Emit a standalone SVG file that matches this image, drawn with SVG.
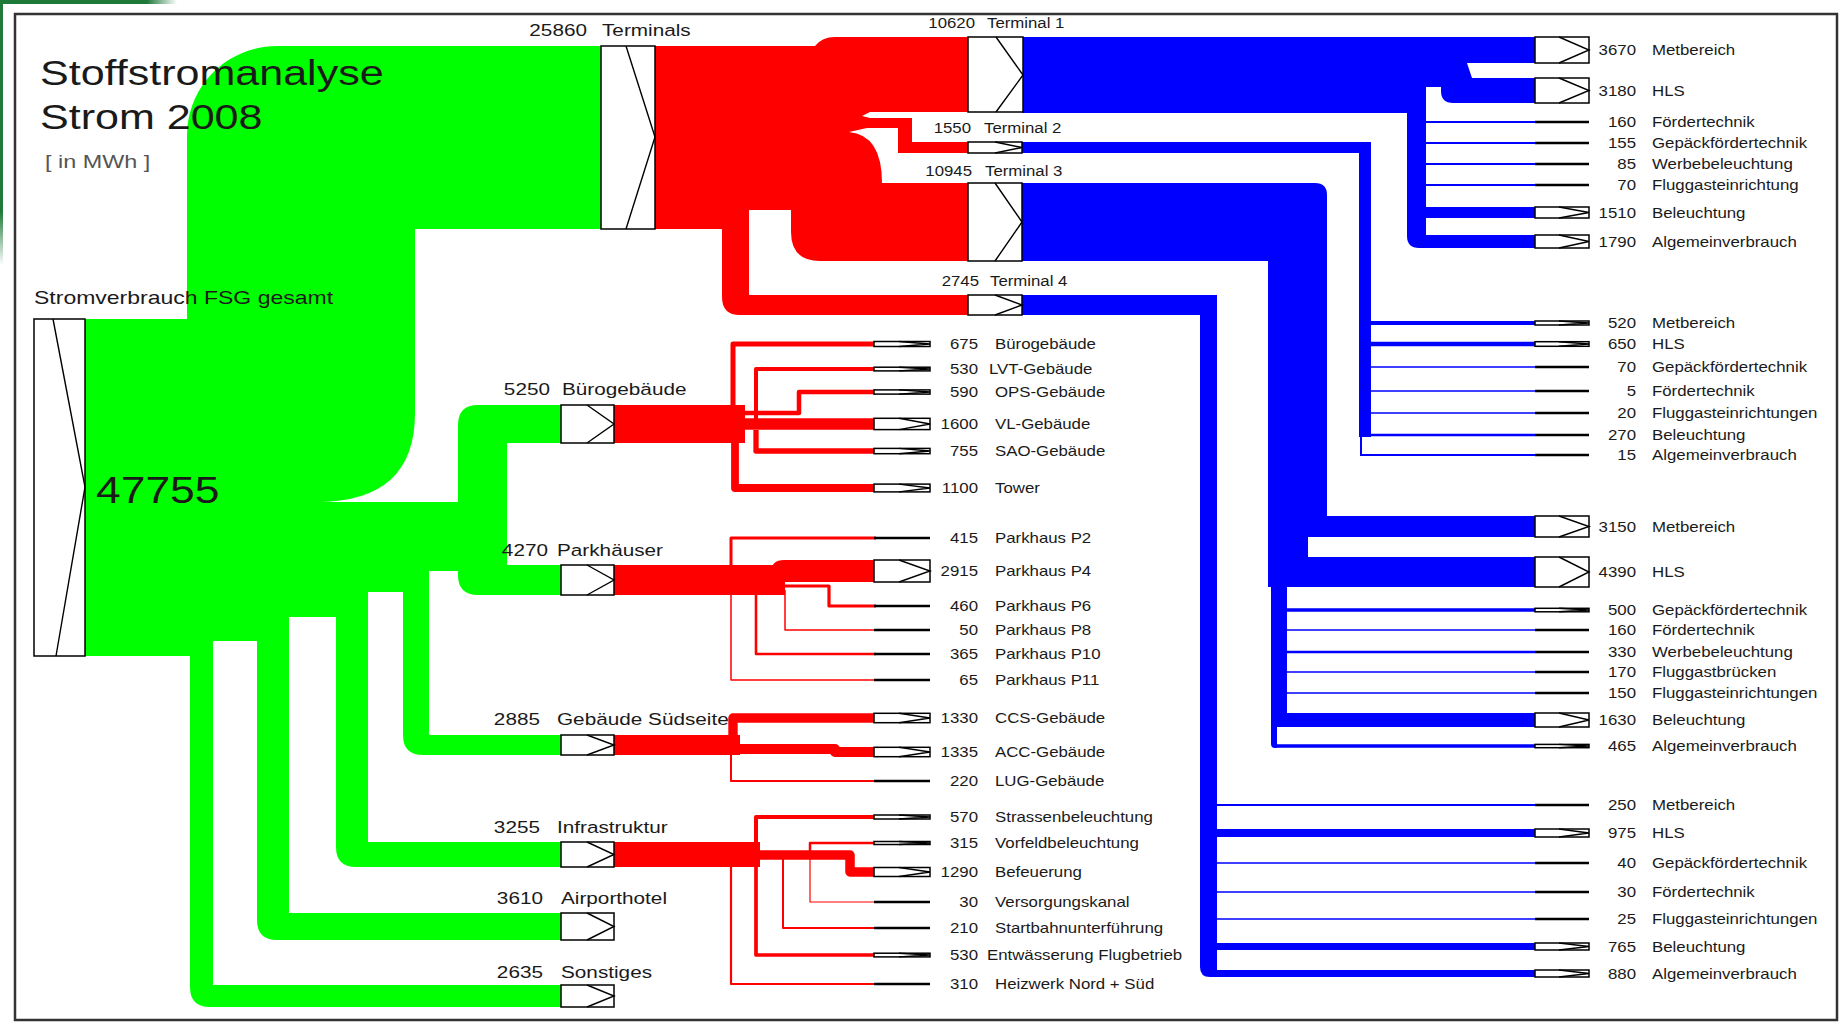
<svg xmlns="http://www.w3.org/2000/svg" width="1843" height="1024" viewBox="0 0 1843 1024">
<defs>
<linearGradient id="fade" x1="0" x2="1" y1="0" y2="0"><stop offset="0" stop-color="#1f7a3a"/><stop offset="1" stop-color="#1f7a3a" stop-opacity="0"/></linearGradient>
<linearGradient id="fadev" x1="0" x2="0" y1="0" y2="1"><stop offset="0.8" stop-color="#1f7a3a"/><stop offset="1" stop-color="#1f7a3a" stop-opacity="0"/></linearGradient>
</defs>
<style>
.g{fill:#00ff00}
.r{fill:#ff0000}
.b{fill:#0000ff}
.rl{fill:none;stroke:#ff0000;stroke-linejoin:round}
.bl{fill:none;stroke:#0000ff}
.bx{fill:#fff;stroke:#000;stroke-width:1.5}
.ch{fill:none;stroke:#000;stroke-width:1.4}
.el{stroke:#000;stroke-width:2.5}
text{font-family:"Liberation Sans",Arial,sans-serif;fill:#1a1a1a}
.lf{font-size:14.5px}
.lb{font-size:17px}
.lt{font-size:15px}
.n{text-anchor:end}
</style>
<rect x="0" y="0" width="1843" height="1024" fill="#fff"/>
<rect x="0" y="0" width="147" height="4" fill="#1f7a3a"/>
<rect x="147" y="0" width="30" height="4" fill="url(#fade)"/>
<rect x="0" y="0" width="3" height="265" fill="url(#fadev)"/>
<rect x="15" y="14" width="1822" height="1006" fill="none" stroke="#333" stroke-width="2.5"/>

<g id="connectors">
<!-- green -->
<path class="g" d="M85 319 L187 319 L187 136 C187 86 227 46 277 46 L601 46 L601 229 L415 229 L415 413 Q415 502 317 502 L458 502 L458 425 Q458 405 478 405 L561 405 L561 443 L507 443 L507 565 L561 565 L561 595 L478 595 Q458 595 458 575 L458 571 L429 571 L429 735 L561 735 L561 755 L423 755 Q403 755 403 735 L403 592 L368 592 L368 842 L561 842 L561 867 L356 867 Q336 867 336 847 L336 617 L289 617 L289 913 L561 913 L561 940 L277 940 Q257 940 257 920 L257 641 L213 641 L213 985 L561 985 L561 1007 L210 1007 Q190 1007 190 987 L190 656 L85 656 Z"/>
<!-- red terminals -->
<path class="r" d="M655 46 L815 46 Q822 37 835 37 L968 37 L968 112 L870 112 L862 116 L870 118 L912 118 L912 142 L968 142 L968 153 L898 153 L898 128 L867 128 L849 132 Q882 135 882 183 L968 183 L968 261 L820 261 Q791 261 791 232 L791 210 L749 210 L749 295 L968 295 L968 315 L740 315 Q722 315 722 297 L722 229 L655 229 Z"/>
<!-- red Bürogebäude -->
<rect class="r" x="614" y="405" width="131" height="38"/>
<path class="rl" stroke-width="5" d="M733 425 V344 H876"/>
<path class="rl" stroke-width="4" d="M756 425 V369 H876"/>
<path class="rl" stroke-width="4.5" d="M740 413 H799 V392 H876"/>
<path class="rl" stroke-width="11.3" d="M740 424 H876"/>
<path class="rl" stroke-width="5.3" d="M756 430 V451 H876"/>
<path class="rl" stroke-width="7.8" d="M735 435 V488 H876"/>
<!-- red Parkhäuser -->
<rect class="r" x="613" y="565" width="172" height="30"/>
<path class="r" d="M771 573 Q771 560 784 560 L876 560 L876 582 L771 582 Z"/>
<path class="rl" stroke-width="3" d="M731 570 V538 H876"/>
<path class="rl" stroke-width="3.2" d="M780 586 H829 V606 H876"/>
<path class="rl" stroke-width="1.5" d="M785 590 V630 H876"/>
<path class="rl" stroke-width="2.6" d="M756 590 V654 H876"/>
<path class="rl" stroke-width="1.5" d="M731 590 V680 H876"/>
<!-- red Südseite -->
<rect class="r" x="611" y="735" width="129" height="20"/>
<path class="rl" stroke-width="9.4" d="M733 742 V718 H876"/>
<path class="rl" stroke-width="10" d="M735 749 H835 V752 H876"/>
<path class="rl" stroke-width="2" d="M731 750 V781 H876"/>
<!-- red Infrastruktur -->
<rect class="r" x="611" y="842" width="149" height="25"/>
<path class="rl" stroke-width="4" d="M756 850 V817 H876"/>
<path class="rl" stroke-width="9.5" d="M745 855 H850 V872 H876"/>
<path class="rl" stroke-width="2.5" d="M810 852 V843 H876"/>
<path class="rl" stroke-width="1.2" d="M810 855 V902 H876"/>
<path class="rl" stroke-width="2" d="M783 855 V928 H876"/>
<path class="rl" stroke-width="3.7" d="M756 860 V955 H876"/>
<path class="rl" stroke-width="2.2" d="M731 860 V984 H876"/>
<!-- blue T1 -->
<path class="b" d="M1022 37 H1535 V63 H1467 L1472 78 H1535 V103 H1453 Q1441 103 1441 91 V87 H1426 V235 H1535 V248 H1419 Q1407 248 1407 236 V113 H1022 Z"/>
<rect class="b" x="1426" y="207" width="109" height="11"/>
<path class="bl" stroke-width="2" d="M1426 122 H1535 M1426 143 H1535 M1426 164 H1535 M1426 185 H1535"/>
<!-- blue T2 -->
<rect class="b" x="1022" y="142" width="349" height="11"/>
<rect class="b" x="1359" y="142" width="12" height="295"/>
<path class="bl" stroke-width="2" d="M1361 436 V455 H1535"/>
<path class="bl" stroke-width="4" d="M1371 323 H1535"/>
<path class="bl" stroke-width="4.6" d="M1371 344 H1535"/>
<path class="bl" stroke-width="1.6" d="M1371 367 H1535 M1371 391 H1535 M1371 413 H1535"/>
<path class="bl" stroke-width="2.5" d="M1365 435 H1535"/>
<!-- blue T3 -->
<path class="b" d="M1022 183 H1315 Q1327 183 1327 195 V516 H1535 V537 H1308 V557 H1535 V587 H1287 V713 H1535 V727 H1277 V748 H1275 Q1271 748 1271 744 V587 H1268 V261 H1022 Z"/>
<path class="bl" stroke-width="3.3" d="M1274 746 H1535"/>
<path class="bl" stroke-width="3.5" d="M1287 610 H1535"/>
<path class="bl" stroke-width="1.6" d="M1287 630 H1535 M1287 672 H1535 M1287 693 H1535"/>
<path class="bl" stroke-width="2.3" d="M1287 652 H1535"/>
<!-- blue T4 -->
<path class="b" d="M1022 295 H1217 V970 H1535 V977 H1210 Q1200 977 1200 967 V315 H1022 Z"/>
<path class="bl" stroke-width="2" d="M1217 805 H1535"/>
<rect class="b" x="1217" y="829" width="318" height="8"/>
<path class="bl" stroke-width="1.6" d="M1217 863 H1535 M1217 892 H1535 M1217 919 H1535"/>
<rect class="b" x="1217" y="943" width="318" height="7"/>
</g>

<g id="title">
<text transform="matrix(1.23 0 0 1 40 85)" style="font-size:35px">Stoffstromanalyse</text>
<text transform="matrix(1.23 0 0 1 40 129)" style="font-size:35px">Strom 2008</text>
<text transform="matrix(1.3 0 0 1 45 168)" style="font-size:18px;fill:#555">[ in MWh ]</text>
</g>

<g id="n-gesamt">
<rect class="bx" x="34" y="319" width="51" height="337"/>
<polyline class="ch" points="53,319 85,487 56,656"/>
<text transform="matrix(1.3 0 0 1 34 304)" style="font-size:17.7px">Stromverbrauch FSG gesamt</text>
<text transform="matrix(1.2 0 0 1 96 503)" style="font-size:37px">47755</text>
</g>

<g id="n-terminals">
<rect class="bx" x="601" y="46" width="54" height="183"/>
<polyline class="ch" points="626,46 655,137 626,229"/>
<text class="lb n" transform="matrix(1.22 0 0 1 587 36)">25860</text>
<text class="lb" transform="matrix(1.22 0 0 1 602 36)">Terminals</text>
</g>

<g id="n-t1">
<rect class="bx" x="968" y="37" width="55" height="75"/>
<polyline class="ch" points="996,37 1023,75 996,112"/>
<text class="lt n" transform="matrix(1.12 0 0 1 975 28)">10620</text>
<text class="lt" transform="matrix(1.12 0 0 1 987 28)">Terminal 1</text>
</g>
<g id="n-t2">
<rect class="bx" x="968" y="142" width="54" height="11"/>
<polyline class="ch" points="995,142 1022,147.5 995,153"/>
<text class="lt n" transform="matrix(1.12 0 0 1 971 133)">1550</text>
<text class="lt" transform="matrix(1.12 0 0 1 984 133)">Terminal 2</text>
</g>
<g id="n-t3">
<rect class="bx" x="968" y="183" width="54" height="78"/>
<polyline class="ch" points="995,183 1022,222 995,261"/>
<text class="lt n" transform="matrix(1.12 0 0 1 972 176)">10945</text>
<text class="lt" transform="matrix(1.12 0 0 1 985 176)">Terminal 3</text>
</g>
<g id="n-t4">
<rect class="bx" x="968" y="295" width="54" height="20"/>
<polyline class="ch" points="995,295 1022,305 995,315"/>
<text class="lt n" transform="matrix(1.12 0 0 1 979 286)">2745</text>
<text class="lt" transform="matrix(1.12 0 0 1 990 286)">Terminal 4</text>
</g>

<g id="n-buero">
<rect class="bx" x="561" y="405" width="53" height="38"/>
<polyline class="ch" points="587,405 614,424 587,443"/>
<text class="lb n" transform="matrix(1.22 0 0 1 550 395)">5250</text>
<text class="lb" transform="matrix(1.22 0 0 1 562 395)">Bürogebäude</text>
</g>
<g id="n-park">
<rect class="bx" x="561" y="565" width="53" height="30"/>
<polyline class="ch" points="587,565 614,580 587,595"/>
<text class="lb n" transform="matrix(1.22 0 0 1 548 556)">4270</text>
<text class="lb" transform="matrix(1.22 0 0 1 557 556)">Parkhäuser</text>
</g>
<g id="n-sued">
<rect class="bx" x="561" y="735" width="53" height="20"/>
<polyline class="ch" points="587,735 614,745 587,755"/>
<text class="lb n" transform="matrix(1.22 0 0 1 540 725)">2885</text>
<text class="lb" transform="matrix(1.22 0 0 1 557 725)">Gebäude Südseite</text>
</g>
<g id="n-infra">
<rect class="bx" x="561" y="842" width="53" height="25"/>
<polyline class="ch" points="587,842 614,854.5 587,867"/>
<text class="lb n" transform="matrix(1.22 0 0 1 540 833)">3255</text>
<text class="lb" transform="matrix(1.22 0 0 1 557 833)">Infrastruktur</text>
</g>
<g id="n-hotel">
<rect class="bx" x="561" y="913" width="53" height="27"/>
<polyline class="ch" points="587,913 614,926.5 587,940"/>
<text class="lb n" transform="matrix(1.22 0 0 1 543 904)">3610</text>
<text class="lb" transform="matrix(1.22 0 0 1 561 904)">Airporthotel</text>
</g>
<g id="n-sonst">
<rect class="bx" x="561" y="985" width="53" height="22"/>
<polyline class="ch" points="587,985 614,996 587,1007"/>
<text class="lb n" transform="matrix(1.22 0 0 1 543 978)">2635</text>
<text class="lb" transform="matrix(1.22 0 0 1 561 978)">Sonstiges</text>
</g>

<!-- red leaves -->
<g id="l-bg"><rect class="bx" x="874" y="341.5" width="56" height="5"/><polyline class="ch" points="899,341.5 930,344 899,346.5"/>
<text class="lf n" transform="matrix(1.16 0 0 1 978 349)">675</text><text class="lf" transform="matrix(1.16 0 0 1 995 349)">Bürogebäude</text></g>
<g id="l-lvt"><rect class="bx" x="874" y="367.2" width="56" height="3.7"/><polyline class="ch" points="899,367.2 930,369 899,370.9"/>
<text class="lf n" transform="matrix(1.16 0 0 1 978 374)">530</text><text class="lf" transform="matrix(1.16 0 0 1 989 374)">LVT-Gebäude</text></g>
<g id="l-ops"><rect class="bx" x="874" y="389.9" width="56" height="4.2"/><polyline class="ch" points="899,389.9 930,392 899,394.1"/>
<text class="lf n" transform="matrix(1.16 0 0 1 978 397)">590</text><text class="lf" transform="matrix(1.16 0 0 1 995 397)">OPS-Gebäude</text></g>
<g id="l-vl"><rect class="bx" x="874" y="418.3" width="56" height="11.3"/><polyline class="ch" points="899,418.3 930,424 899,429.6"/>
<text class="lf n" transform="matrix(1.16 0 0 1 978 429)">1600</text><text class="lf" transform="matrix(1.16 0 0 1 995 429)">VL-Gebäude</text></g>
<g id="l-sao"><rect class="bx" x="874" y="448.4" width="56" height="5.3"/><polyline class="ch" points="899,448.4 930,451 899,453.7"/>
<text class="lf n" transform="matrix(1.16 0 0 1 978 456)">755</text><text class="lf" transform="matrix(1.16 0 0 1 995 456)">SAO-Gebäude</text></g>
<g id="l-tower"><rect class="bx" x="874" y="484.1" width="56" height="7.8"/><polyline class="ch" points="899,484.1 930,488 899,491.9"/>
<text class="lf n" transform="matrix(1.16 0 0 1 978 493)">1100</text><text class="lf" transform="matrix(1.16 0 0 1 995 493)">Tower</text></g>

<g id="l-p2"><line class="el" x1="874" y1="538" x2="930" y2="538" stroke-width="3"/>
<text class="lf n" transform="matrix(1.16 0 0 1 978 543)">415</text><text class="lf" transform="matrix(1.16 0 0 1 995 543)">Parkhaus P2</text></g>
<g id="l-p4"><rect class="bx" x="874" y="560" width="56" height="22"/><polyline class="ch" points="899,560 930,571 899,582"/>
<text class="lf n" transform="matrix(1.16 0 0 1 978 576)">2915</text><text class="lf" transform="matrix(1.16 0 0 1 995 576)">Parkhaus P4</text></g>
<g id="l-p6"><line class="el" x1="874" y1="606" x2="930" y2="606" stroke-width="3.2"/>
<text class="lf n" transform="matrix(1.16 0 0 1 978 611)">460</text><text class="lf" transform="matrix(1.16 0 0 1 995 611)">Parkhaus P6</text></g>
<g id="l-p8"><line class="el" x1="874" y1="630" x2="930" y2="630" stroke-width="2"/>
<text class="lf n" transform="matrix(1.16 0 0 1 978 635)">50</text><text class="lf" transform="matrix(1.16 0 0 1 995 635)">Parkhaus P8</text></g>
<g id="l-p10"><line class="el" x1="874" y1="654" x2="930" y2="654" stroke-width="2.8"/>
<text class="lf n" transform="matrix(1.16 0 0 1 978 659)">365</text><text class="lf" transform="matrix(1.16 0 0 1 995 659)">Parkhaus P10</text></g>
<g id="l-p11"><line class="el" x1="874" y1="680" x2="930" y2="680" stroke-width="2.2"/>
<text class="lf n" transform="matrix(1.16 0 0 1 978 685)">65</text><text class="lf" transform="matrix(1.16 0 0 1 995 685)">Parkhaus P11</text></g>

<g id="l-ccs"><rect class="bx" x="874" y="713.3" width="56" height="9.4"/><polyline class="ch" points="899,713.3 930,718 899,722.7"/>
<text class="lf n" transform="matrix(1.16 0 0 1 978 723)">1330</text><text class="lf" transform="matrix(1.16 0 0 1 995 723)">CCS-Gebäude</text></g>
<g id="l-acc"><rect class="bx" x="874" y="747.3" width="56" height="9.4"/><polyline class="ch" points="899,747.3 930,752 899,756.7"/>
<text class="lf n" transform="matrix(1.16 0 0 1 978 757)">1335</text><text class="lf" transform="matrix(1.16 0 0 1 995 757)">ACC-Gebäude</text></g>
<g id="l-lug"><line class="el" x1="874" y1="781" x2="930" y2="781" stroke-width="2.5"/>
<text class="lf n" transform="matrix(1.16 0 0 1 978 786)">220</text><text class="lf" transform="matrix(1.16 0 0 1 995 786)">LUG-Gebäude</text></g>

<g id="l-str"><rect class="bx" x="874" y="815" width="56" height="4"/><polyline class="ch" points="899,815 930,817 899,819"/>
<text class="lf n" transform="matrix(1.16 0 0 1 978 822)">570</text><text class="lf" transform="matrix(1.16 0 0 1 995 822)">Strassenbeleuchtung</text></g>
<g id="l-vor"><rect class="bx" x="874" y="841.5" width="56" height="3"/><polyline class="ch" points="899,841.5 930,843 899,844.5"/>
<text class="lf n" transform="matrix(1.16 0 0 1 978 848)">315</text><text class="lf" transform="matrix(1.16 0 0 1 995 848)">Vorfeldbeleuchtung</text></g>
<g id="l-bef"><rect class="bx" x="874" y="867.5" width="56" height="9"/><polyline class="ch" points="899,867.5 930,872 899,876.5"/>
<text class="lf n" transform="matrix(1.16 0 0 1 978 877)">1290</text><text class="lf" transform="matrix(1.16 0 0 1 995 877)">Befeuerung</text></g>
<g id="l-ver"><line class="el" x1="874" y1="902" x2="930" y2="902" stroke-width="2"/>
<text class="lf n" transform="matrix(1.16 0 0 1 978 907)">30</text><text class="lf" transform="matrix(1.16 0 0 1 995 907)">Versorgungskanal</text></g>
<g id="l-sta"><line class="el" x1="874" y1="928" x2="930" y2="928" stroke-width="2.5"/>
<text class="lf n" transform="matrix(1.16 0 0 1 978 933)">210</text><text class="lf" transform="matrix(1.16 0 0 1 995 933)">Startbahnunterführung</text></g>
<g id="l-ent"><rect class="bx" x="874" y="953.2" width="56" height="3.7"/><polyline class="ch" points="899,953.2 930,955 899,956.9"/>
<text class="lf n" transform="matrix(1.16 0 0 1 978 960)">530</text><text class="lf" transform="matrix(1.16 0 0 1 987 960)">Entwässerung Flugbetrieb</text></g>
<g id="l-hei"><line class="el" x1="874" y1="984" x2="930" y2="984" stroke-width="2.5"/>
<text class="lf n" transform="matrix(1.16 0 0 1 978 989)">310</text><text class="lf" transform="matrix(1.16 0 0 1 995 989)">Heizwerk Nord + Süd</text></g>

<!-- blue leaves T1 -->
<g id="b1-met"><rect class="bx" x="1535" y="37" width="54" height="26"/><polyline class="ch" points="1559,37 1589,50 1559,63"/>
<text class="lf n" transform="matrix(1.16 0 0 1 1636 55)">3670</text><text class="lf" transform="matrix(1.16 0 0 1 1652 55)">Metbereich</text></g>
<g id="b1-hls"><rect class="bx" x="1535" y="78" width="54" height="25"/><polyline class="ch" points="1559,78 1589,90.5 1559,103"/>
<text class="lf n" transform="matrix(1.16 0 0 1 1636 95.5)">3180</text><text class="lf" transform="matrix(1.16 0 0 1 1652 95.5)">HLS</text></g>
<g id="b1-foe"><line class="el" x1="1535" y1="122" x2="1589" y2="122" stroke-width="3"/>
<text class="lf n" transform="matrix(1.16 0 0 1 1636 127)">160</text><text class="lf" transform="matrix(1.16 0 0 1 1652 127)">Fördertechnik</text></g>
<g id="b1-gep"><line class="el" x1="1535" y1="143" x2="1589" y2="143" stroke-width="2"/>
<text class="lf n" transform="matrix(1.16 0 0 1 1636 148)">155</text><text class="lf" transform="matrix(1.16 0 0 1 1652 148)">Gepäckfördertechnik</text></g>
<g id="b1-wer"><line class="el" x1="1535" y1="164" x2="1589" y2="164" stroke-width="3"/>
<text class="lf n" transform="matrix(1.16 0 0 1 1636 169)">85</text><text class="lf" transform="matrix(1.16 0 0 1 1652 169)">Werbebeleuchtung</text></g>
<g id="b1-flu"><line class="el" x1="1535" y1="185" x2="1589" y2="185" stroke-width="2"/>
<text class="lf n" transform="matrix(1.16 0 0 1 1636 190)">70</text><text class="lf" transform="matrix(1.16 0 0 1 1652 190)">Fluggasteinrichtung</text></g>
<g id="b1-bel"><rect class="bx" x="1535" y="207" width="54" height="11"/><polyline class="ch" points="1559,207 1589,212.5 1559,218"/>
<text class="lf n" transform="matrix(1.16 0 0 1 1636 217.5)">1510</text><text class="lf" transform="matrix(1.16 0 0 1 1652 217.5)">Beleuchtung</text></g>
<g id="b1-all"><rect class="bx" x="1535" y="235" width="54" height="13"/><polyline class="ch" points="1559,235 1589,241.5 1559,248"/>
<text class="lf n" transform="matrix(1.16 0 0 1 1636 246.5)">1790</text><text class="lf" transform="matrix(1.16 0 0 1 1652 246.5)">Algemeinverbrauch</text></g>

<!-- blue leaves T2 -->
<g id="b2-met"><rect class="bx" x="1535" y="321" width="54" height="4"/><polyline class="ch" points="1559,321 1589,323 1559,325"/>
<text class="lf n" transform="matrix(1.16 0 0 1 1636 328)">520</text><text class="lf" transform="matrix(1.16 0 0 1 1652 328)">Metbereich</text></g>
<g id="b2-hls"><rect class="bx" x="1535" y="341.7" width="54" height="4.6"/><polyline class="ch" points="1559,341.7 1589,344 1559,346.3"/>
<text class="lf n" transform="matrix(1.16 0 0 1 1636 349)">650</text><text class="lf" transform="matrix(1.16 0 0 1 1652 349)">HLS</text></g>
<g id="b2-gep"><line class="el" x1="1535" y1="367" x2="1589" y2="367" stroke-width="2"/>
<text class="lf n" transform="matrix(1.16 0 0 1 1636 372)">70</text><text class="lf" transform="matrix(1.16 0 0 1 1652 372)">Gepäckfördertechnik</text></g>
<g id="b2-foe"><line class="el" x1="1535" y1="391" x2="1589" y2="391" stroke-width="2"/>
<text class="lf n" transform="matrix(1.16 0 0 1 1636 396)">5</text><text class="lf" transform="matrix(1.16 0 0 1 1652 396)">Fördertechnik</text></g>
<g id="b2-flu"><line class="el" x1="1535" y1="413" x2="1589" y2="413" stroke-width="2"/>
<text class="lf n" transform="matrix(1.16 0 0 1 1636 418)">20</text><text class="lf" transform="matrix(1.16 0 0 1 1652 418)">Fluggasteinrichtungen</text></g>
<g id="b2-bel"><line class="el" x1="1535" y1="435" x2="1589" y2="435" stroke-width="3"/>
<text class="lf n" transform="matrix(1.16 0 0 1 1636 440)">270</text><text class="lf" transform="matrix(1.16 0 0 1 1652 440)">Beleuchtung</text></g>
<g id="b2-all"><line class="el" x1="1535" y1="455" x2="1589" y2="455" stroke-width="3"/>
<text class="lf n" transform="matrix(1.16 0 0 1 1636 460)">15</text><text class="lf" transform="matrix(1.16 0 0 1 1652 460)">Algemeinverbrauch</text></g>

<!-- blue leaves T3 -->
<g id="b3-met"><rect class="bx" x="1535" y="516" width="54" height="21"/><polyline class="ch" points="1559,516 1589,526.5 1559,537"/>
<text class="lf n" transform="matrix(1.16 0 0 1 1636 532)">3150</text><text class="lf" transform="matrix(1.16 0 0 1 1652 532)">Metbereich</text></g>
<g id="b3-hls"><rect class="bx" x="1535" y="557" width="54" height="30"/><polyline class="ch" points="1559,557 1589,572 1559,587"/>
<text class="lf n" transform="matrix(1.16 0 0 1 1636 577)">4390</text><text class="lf" transform="matrix(1.16 0 0 1 1652 577)">HLS</text></g>
<g id="b3-gep"><rect class="bx" x="1535" y="608.3" width="54" height="3.5"/><polyline class="ch" points="1559,608.3 1589,610 1559,611.8"/>
<text class="lf n" transform="matrix(1.16 0 0 1 1636 615)">500</text><text class="lf" transform="matrix(1.16 0 0 1 1652 615)">Gepäckfördertechnik</text></g>
<g id="b3-foe"><line class="el" x1="1535" y1="630" x2="1589" y2="630" stroke-width="2"/>
<text class="lf n" transform="matrix(1.16 0 0 1 1636 635)">160</text><text class="lf" transform="matrix(1.16 0 0 1 1652 635)">Fördertechnik</text></g>
<g id="b3-wer"><line class="el" x1="1535" y1="652" x2="1589" y2="652" stroke-width="3"/>
<text class="lf n" transform="matrix(1.16 0 0 1 1636 657)">330</text><text class="lf" transform="matrix(1.16 0 0 1 1652 657)">Werbebeleuchtung</text></g>
<g id="b3-bru"><line class="el" x1="1535" y1="672" x2="1589" y2="672" stroke-width="2.5"/>
<text class="lf n" transform="matrix(1.16 0 0 1 1636 677)">170</text><text class="lf" transform="matrix(1.16 0 0 1 1652 677)">Fluggastbrücken</text></g>
<g id="b3-flu"><line class="el" x1="1535" y1="693" x2="1589" y2="693" stroke-width="2"/>
<text class="lf n" transform="matrix(1.16 0 0 1 1636 698)">150</text><text class="lf" transform="matrix(1.16 0 0 1 1652 698)">Fluggasteinrichtungen</text></g>
<g id="b3-bel"><rect class="bx" x="1535" y="713" width="54" height="14"/><polyline class="ch" points="1559,713 1589,720 1559,727"/>
<text class="lf n" transform="matrix(1.16 0 0 1 1636 725)">1630</text><text class="lf" transform="matrix(1.16 0 0 1 1652 725)">Beleuchtung</text></g>
<g id="b3-all"><rect class="bx" x="1535" y="744.4" width="54" height="3.3"/><polyline class="ch" points="1559,744.4 1589,746 1559,747.7"/>
<text class="lf n" transform="matrix(1.16 0 0 1 1636 751)">465</text><text class="lf" transform="matrix(1.16 0 0 1 1652 751)">Algemeinverbrauch</text></g>

<!-- blue leaves T4 -->
<g id="b4-met"><line class="el" x1="1535" y1="805" x2="1589" y2="805" stroke-width="2.5"/>
<text class="lf n" transform="matrix(1.16 0 0 1 1636 810)">250</text><text class="lf" transform="matrix(1.16 0 0 1 1652 810)">Metbereich</text></g>
<g id="b4-hls"><rect class="bx" x="1535" y="829" width="54" height="8"/><polyline class="ch" points="1559,829 1589,833 1559,837"/>
<text class="lf n" transform="matrix(1.16 0 0 1 1636 838)">975</text><text class="lf" transform="matrix(1.16 0 0 1 1652 838)">HLS</text></g>
<g id="b4-gep"><line class="el" x1="1535" y1="863" x2="1589" y2="863" stroke-width="2"/>
<text class="lf n" transform="matrix(1.16 0 0 1 1636 868)">40</text><text class="lf" transform="matrix(1.16 0 0 1 1652 868)">Gepäckfördertechnik</text></g>
<g id="b4-foe"><line class="el" x1="1535" y1="892" x2="1589" y2="892" stroke-width="2"/>
<text class="lf n" transform="matrix(1.16 0 0 1 1636 897)">30</text><text class="lf" transform="matrix(1.16 0 0 1 1652 897)">Fördertechnik</text></g>
<g id="b4-flu"><line class="el" x1="1535" y1="919" x2="1589" y2="919" stroke-width="2"/>
<text class="lf n" transform="matrix(1.16 0 0 1 1636 924)">25</text><text class="lf" transform="matrix(1.16 0 0 1 1652 924)">Fluggasteinrichtungen</text></g>
<g id="b4-bel"><rect class="bx" x="1535" y="943" width="54" height="7"/><polyline class="ch" points="1559,943 1589,946.5 1559,950"/>
<text class="lf n" transform="matrix(1.16 0 0 1 1636 951.5)">765</text><text class="lf" transform="matrix(1.16 0 0 1 1652 951.5)">Beleuchtung</text></g>
<g id="b4-all"><rect class="bx" x="1535" y="970" width="54" height="7"/><polyline class="ch" points="1559,970 1589,973.5 1559,977"/>
<text class="lf n" transform="matrix(1.16 0 0 1 1636 978.5)">880</text><text class="lf" transform="matrix(1.16 0 0 1 1652 978.5)">Algemeinverbrauch</text></g>
</svg>
